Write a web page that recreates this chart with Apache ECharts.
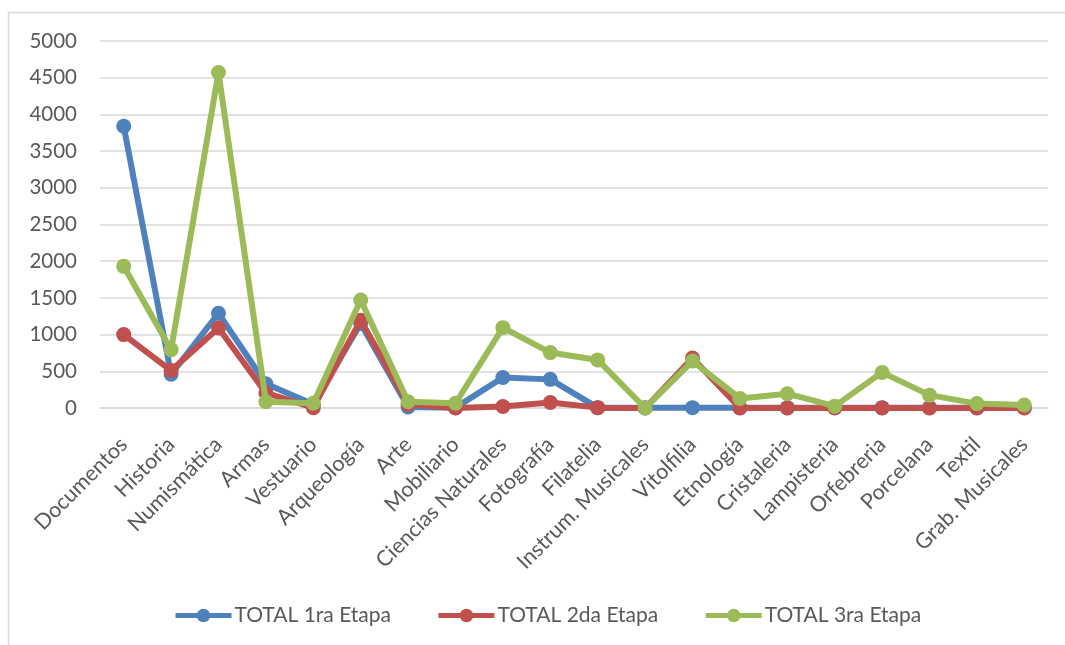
<!DOCTYPE html>
<html>
<head>
<meta charset="utf-8">
<script src="https://cdn.jsdelivr.net/npm/echarts@6/dist/echarts.min.js"></script>
<style>
  html, body { margin: 0; padding: 0; background: #fff; }
  #chart { width: 1065px; height: 645px; }
</style>
</head>
<body>
<div id="chart"></div>
<script>
// Collection categories
const categories = ['Documentos', 'Historia', 'Numismática', 'Armas', 'Vestuario', 'Arqueología', 'Arte',
  'Mobiliario', 'Ciencias Naturales', 'Fotografía', 'Filatelia', 'Instrum. Musicales', 'Vitolfilia',
  'Etnología', 'Cristaleria', 'Lampisteria', 'Orfebreria', 'Porcelana', 'Textil', 'Grab. Musicales'];

// Totals per stage
const etapa1 = [3840, 460, 1290, 330, 50, 1150, 15, 5, 415, 390, 5, 5, 5, 5, 5, 5, 5, 5, 5, 5];
const etapa2 = [1000, 510, 1090, 205, 5, 1195, 50, 0, 20, 75, 5, 0, 680, 0, 0, 0, 0, 0, 0, 0];
const etapa3 = [1930, 795, 4570, 85, 65, 1470, 85, 65, 1095, 755, 655, 0, 640, 130, 195, 25, 485, 175, 60, 40];

// Value axis ticks
const yMin = 0, yMax = 5000, yStep = 500;

const seriesNames = ['TOTAL 1ra Etapa', 'TOTAL 2da Etapa', 'TOTAL 3ra Etapa'];
const seriesColors = ['#4F81BD', '#C0504D', '#9BBB59'];
const seriesData = [etapa1, etapa2, etapa3];

const font = 'Lato, "Open Sans", sans-serif';
const chart = echarts.init(document.getElementById('chart'), null, { renderer: 'canvas' });

chart.setOption({
  animation: false,
  backgroundColor: '#fff',
  color: seriesColors,
  graphic: [{
    type: 'rect',
    shape: { x: 8.5, y: 12.5, width: 1100, height: 700 },
    style: { fill: 'none', stroke: '#D9D9D9', lineWidth: 1.5 },
    silent: true
  }],
  grid: { left: 100, right: 17, top: 41, bottom: 237, containLabel: false },
  legend: {
    data: seriesNames,
    top: 600,
    left: 168,
    itemWidth: 56,
    itemHeight: 17,
    itemGap: 45,
    lineStyle: { width: 5 },
    textStyle: { fontFamily: font, fontSize: 21, color: '#595959', padding: [0, 0, 0, -2] }
  },
  xAxis: {
    type: 'category',
    data: categories,
    boundaryGap: true,
    axisLine: { lineStyle: { color: '#D9D9D9', width: 1.5 } },
    axisTick: { show: false },
    axisLabel: { rotate: 45, fontFamily: font, fontSize: 21.5, color: '#595959', margin: 33, interval: 0 }
  },
  yAxis: {
    type: 'value',
    min: yMin, max: yMax, interval: yStep,
    axisLine: { show: false },
    axisTick: { show: false },
    splitLine: { lineStyle: { color: '#D9D9D9', width: 1.5 } },
    axisLabel: { fontFamily: font, fontSize: 20.5, color: '#595959', margin: 23, formatter: v => String(v) }
  },
  series: seriesNames.map((name, i) => ({
    name,
    type: 'line',
    data: seriesData[i],
    symbol: 'circle',
    symbolSize: 15,
    lineStyle: { width: 6, color: seriesColors[i] },
    itemStyle: { color: seriesColors[i] },
    z: 2 + i
  }))
});
</script>
</body>
</html>
